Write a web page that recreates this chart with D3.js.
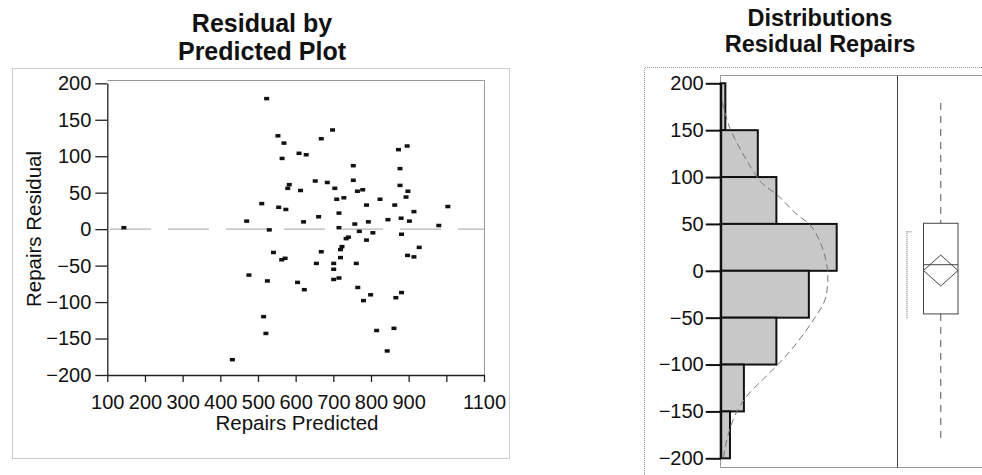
<!DOCTYPE html>
<html>
<head>
<meta charset="utf-8">
<script src="https://cdn.jsdelivr.net/npm/d3@7/dist/d3.min.js"></script>
<style>
  body { margin: 0; background: #fff; }
  svg text { font-family: "Liberation Sans", Arial, sans-serif; fill: #111; }
</style>
</head>
<body>
<div class="chart"></div>
<script>
// Scatter: residual by predicted
var predicted = [144, 523, 698, 553, 569, 668, 564, 609, 628, 873, 896, 753, 877, 652, 684, 583,
  579, 613, 704, 753, 764, 778, 709, 728, 824, 877, 898, 893, 510, 555, 574, 788, 863, 715, 914,
  1004, 470, 661, 621, 757, 793, 845, 880, 902, 980, 530, 715, 769, 805, 788, 881, 734, 740, 723,
  719, 928, 541, 668, 719, 897, 914, 563, 572, 655, 701, 761, 701, 476, 525, 701, 715, 605, 623,
  765, 799, 780, 881, 866, 515, 521, 815, 861, 843, 432];
var residual = [2, 179, 136, 128, 118, 124, 97, 104, 102, 109, 114, 87, 83, 66, 64, 61,
  56, 53, 56, 67, 52, 54, 41, 43, 41, 60, 52, 44, 35, 30, 27, 33, 33, 22, 24,
  31, 11, 17, 10, 7, 10, 13, 15, 11, 5, -1, 2, -3, -5, -15, -7, -13, -11, -24,
  -28, -25, -32, -31, -39, -36, -38, -42, -40, -47, -47, -47, -55, -63, -71, -69, -67, -73, -83,
  -80, -90, -98, -87, -94, -120, -143, -139, -136, -167, -179];

var xTicks = [100, 200, 300, 400, 500, 600, 700, 800, 900, 1000, 1100];
var xTickLabels = ["100", "200", "300", "400", "500", "600", "700", "800", "900", "", "1100"];
var yTicks = [-200, -150, -100, -50, 0, 50, 100, 150, 200];

// Distribution: histogram bins (lower edge) and counts
var binLow = [150, 100, 50, 0, -50, -100, -150, -200];
var binCounts = [1, 8, 12, 25, 19, 12, 5, 2];

// fitted normal curve
var curveValues = [180, 152, 130, 112, 94, 80, 62, 47, 26, 8, -5, -17, -32, -50, -75, -96, -114, -132, -147, -168, -190, -204];
var curveDensity = [0.3, 2.0, 4.2, 6.3, 8.8, 12.4, 16.0, 19.6, 21.8, 22.8, 23.1, 23.0, 22.4, 20.3, 16.7, 13.1, 9.5, 5.9, 3.8, 2.0, 0.9, 0.5];

// box plot: min, q1, median, q3, max
var boxStats = [-179, -46, 6.5, 50.7, 179];
var meanDiamond = [-16.2, 0.3, 16.8];
var shortestHalf = [-50.7, 41.7];

var svgWidth = 982;
var svgHeight = 475;

var svg = d3.select(".chart")
  .append("svg")
  .attr("width", svgWidth)
  .attr("height", svgHeight);

//__________________________________________________________________________________
// Left panel
var xScale = d3.scaleLinear().domain([100, 1100]).range([107.3, 484]);
var yScale = d3.scaleLinear().domain([-200, 200]).range([375, 83.3]);

var left = svg.append("g");

// dotted outer box
left.append("rect")
  .attr("x", 12.5).attr("y", 68.5)
  .attr("width", 497).attr("height", 390)
  .attr("fill", "none")
  .attr("stroke", "#999")
  .attr("stroke-dasharray", "1,1");

left.append("text")
  .attr("x", 262).attr("y", 32)
  .attr("text-anchor", "middle")
  .attr("font-size", 25).attr("font-weight", "bold")
  .text("Residual by");
left.append("text")
  .attr("x", 262).attr("y", 60)
  .attr("text-anchor", "middle")
  .attr("font-size", 25).attr("font-weight", "bold")
  .text("Predicted Plot");

// frame top and right
left.append("path")
  .attr("d", `M${xScale(100)},80.5H484.5V375`)
  .attr("fill", "none")
  .attr("stroke", "#999");

// zero reference line
left.append("line")
  .attr("x1", 110).attr("x2", 484)
  .attr("y1", yScale(0)).attr("y2", yScale(0))
  .attr("stroke", "#b5b5b5")
  .attr("stroke-width", 1.2)
  .attr("stroke-dasharray", "41,17");

var yAxisL = left.append("g")
  .attr("transform", `translate(${xScale(100)},0)`)
  .call(d3.axisLeft(yScale).tickValues(yTicks).tickSize(12).tickPadding(4).tickSizeOuter(0));

var xAxisL = left.append("g")
  .attr("transform", `translate(0,${yScale(-200)})`)
  .call(d3.axisBottom(xScale).tickValues(xTicks).tickSize(7).tickPadding(13).tickSizeOuter(0)
    .tickFormat((d, i) => xTickLabels[i]));

yAxisL.attr("font-size", 20).attr("font-family", null);
xAxisL.attr("font-size", 20).attr("font-family", null);
[yAxisL, xAxisL].forEach(function(ax) {
  ax.selectAll("path, line").attr("stroke", "#222").attr("stroke-width", 1.3);
  ax.selectAll("text").attr("fill", "#111");
});

left.selectAll("rect.pt")
  .data(predicted)
  .enter()
  .append("rect")
  .attr("class", "pt")
  .attr("x", d => xScale(d) - 2.5)
  .attr("y", (d, i) => yScale(residual[i]) - 1.75)
  .attr("width", 5)
  .attr("height", 3.5)
  .attr("fill", "#111");

left.append("text")
  .attr("x", 297).attr("y", 430)
  .attr("text-anchor", "middle")
  .attr("font-size", 20.5)
  .text("Repairs Predicted");

left.append("text")
  .attr("transform", "translate(41,229) rotate(-90)")
  .attr("text-anchor", "middle")
  .attr("font-size", 20.5)
  .text("Repairs Residual");

//__________________________________________________________________________________
// Right panel
var yH = d3.scaleLinear().domain([-200, 200]).range([458.3, 83.3]);
var countScale = d3.scaleLinear().domain([0, 40]).range([720.7, 720.7 + 185.6]);

var right = svg.append("g");

right.append("path")
  .attr("d", "M644.5,475V67.5H982")
  .attr("fill", "none")
  .attr("stroke", "#999")
  .attr("stroke-dasharray", "1,1");

right.append("text")
  .attr("x", 820).attr("y", 25.5)
  .attr("text-anchor", "middle")
  .attr("font-size", 23.5).attr("font-weight", "bold")
  .text("Distributions");
right.append("text")
  .attr("x", 820).attr("y", 52)
  .attr("text-anchor", "middle")
  .attr("font-size", 23.5).attr("font-weight", "bold")
  .text("Residual Repairs");

// frame
right.append("path")
  .attr("d", "M982,75.5H720.5V467.5H982")
  .attr("fill", "none")
  .attr("stroke", "#999");
right.append("line")
  .attr("x1", 897.5).attr("x2", 897.5)
  .attr("y1", 75.5).attr("y2", 467.5)
  .attr("stroke", "#444");

// histogram
right.selectAll("rect.bin")
  .data(binCounts)
  .enter()
  .append("rect")
  .attr("class", "bin")
  .attr("x", countScale(0))
  .attr("y", (d, i) => yH(binLow[i] + 50))
  .attr("width", d => countScale(d) - countScale(0))
  .attr("height", (d, i) => yH(binLow[i]) - yH(binLow[i] + 50))
  .attr("fill", "#c8c8c8")
  .attr("stroke", "#111")
  .attr("stroke-width", 2);

// normal curve
var curveLine = d3.line()
  .x(i => countScale(curveDensity[i]))
  .y(i => yH(curveValues[i]))
  .curve(d3.curveCatmullRom);
right.append("path")
  .attr("d", curveLine(d3.range(curveValues.length)))
  .attr("fill", "none")
  .attr("stroke", "#777")
  .attr("stroke-width", 1)
  .attr("stroke-dasharray", "7,4");

var yAxisR = right.append("g")
  .attr("transform", `translate(${countScale(0)},0)`)
  .call(d3.axisLeft(yH).tickValues(yTicks).tickSize(15).tickPadding(2).tickSizeOuter(0));
yAxisR.attr("font-size", 20).attr("font-family", null);
yAxisR.selectAll("path, line").attr("stroke", "#111").attr("stroke-width", 2);
yAxisR.selectAll("text").attr("fill", "#111");

// box plot
var boxLeft = 923.5, boxRight = 958, boxMid = (boxLeft + boxRight) / 2;

right.append("line")
  .attr("x1", boxMid).attr("x2", boxMid)
  .attr("y1", yH(boxStats[4])).attr("y2", yH(boxStats[3]))
  .attr("stroke", "#555").attr("stroke-dasharray", "7,6");
right.append("line")
  .attr("x1", boxMid).attr("x2", boxMid)
  .attr("y1", yH(boxStats[1])).attr("y2", yH(boxStats[0]))
  .attr("stroke", "#555").attr("stroke-dasharray", "7,6");

right.append("rect")
  .attr("x", boxLeft).attr("y", yH(boxStats[3]))
  .attr("width", boxRight - boxLeft)
  .attr("height", yH(boxStats[1]) - yH(boxStats[3]))
  .attr("fill", "none")
  .attr("stroke", "#444");
right.append("line")
  .attr("x1", boxLeft).attr("x2", boxRight)
  .attr("y1", yH(boxStats[2])).attr("y2", yH(boxStats[2]))
  .attr("stroke", "#444");

right.append("path")
  .attr("d", `M${boxLeft},${yH(meanDiamond[1])}L${boxMid},${yH(meanDiamond[2])}L${boxRight},${yH(meanDiamond[1])}L${boxMid},${yH(meanDiamond[0])}Z`)
  .attr("fill", "none")
  .attr("stroke", "#444");

// shortest half bracket
right.append("path")
  .attr("d", `M911.5,${yH(shortestHalf[1])}H907V${yH(shortestHalf[0])}`)
  .attr("fill", "none")
  .attr("stroke", "#999")
  .attr("stroke-width", 1.5)
  .attr("stroke-dasharray", "1,1");
</script>
</body>
</html>
